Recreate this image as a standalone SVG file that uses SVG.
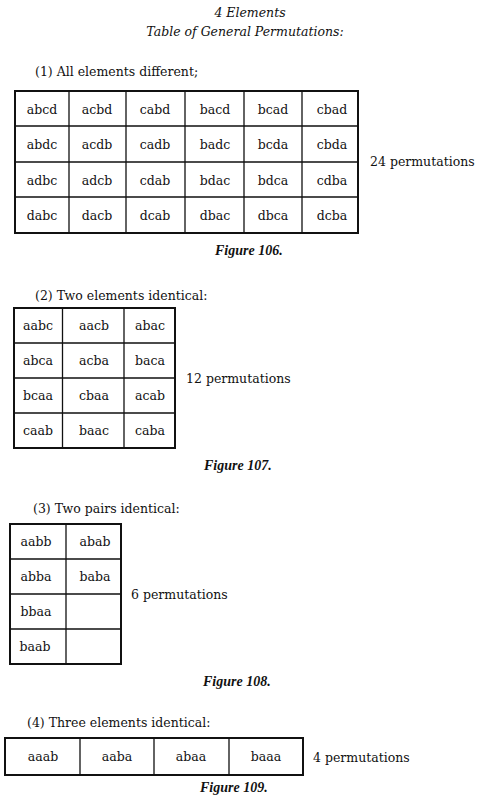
<svg xmlns="http://www.w3.org/2000/svg" width="483" height="803" viewBox="0 0 483 803">
<style>
.bg{fill:#ffffff}
.t{font-family:"DejaVu Serif","Liberation Serif",serif;font-size:12.5px;fill:#111}
.c{font-family:"DejaVu Serif","Liberation Serif",serif;font-size:12.5px;fill:#111;text-anchor:middle}
.it{font-family:"DejaVu Serif","Liberation Serif",serif;font-style:italic;font-size:12.5px;fill:#111;text-anchor:middle}
.cap{font-family:"Liberation Serif","DejaVu Serif",serif;font-style:italic;font-weight:bold;font-size:14px;fill:#111}
.outer{fill:none;stroke:#111;stroke-width:2}
.inner{fill:none;stroke:#111;stroke-width:1.3}
</style>
<rect class="bg" x="0" y="0" width="483" height="803"/>
<g id="title">
<text class="it" x="250" y="17">4 Elements</text>
<text class="it" x="245" y="36">Table of General Permutations:</text>
</g>

<g id="table1">
<text class="t" x="35" y="76">(1) All elements different;</text>
<g class="lines">
<rect class="outer" x="15" y="91" width="343" height="142"/>
<path class="inner" d="M69 91V233M126 91V233M185 91V233M244 91V233M302 91V233M15 126H358M15 162H358M15 197H358"/>
</g>
<text class="c" x="42" y="114">abcd</text><text class="c" x="97" y="114">acbd</text><text class="c" x="155" y="114">cabd</text><text class="c" x="215" y="114">bacd</text><text class="c" x="273" y="114">bcad</text><text class="c" x="332" y="114">cbad</text>
<text class="c" x="42" y="149">abdc</text><text class="c" x="97" y="149">acdb</text><text class="c" x="155" y="149">cadb</text><text class="c" x="215" y="149">badc</text><text class="c" x="273" y="149">bcda</text><text class="c" x="332" y="149">cbda</text>
<text class="c" x="42" y="185">adbc</text><text class="c" x="97" y="185">adcb</text><text class="c" x="155" y="185">cdab</text><text class="c" x="215" y="185">bdac</text><text class="c" x="273" y="185">bdca</text><text class="c" x="332" y="185">cdba</text>
<text class="c" x="42" y="220">dabc</text><text class="c" x="97" y="220">dacb</text><text class="c" x="155" y="220">dcab</text><text class="c" x="215" y="220">dbac</text><text class="c" x="273" y="220">dbca</text><text class="c" x="332" y="220">dcba</text>
<text class="t" x="370" y="166">24 permutations</text>
<text class="cap" x="215" y="255">Figure 106.</text>
</g>

<g id="table2">
<text class="t" x="35" y="300">(2) Two elements identical:</text>
<rect class="outer" x="14" y="308" width="161" height="140"/>
<path class="inner" d="M62.5 308V448M124 308V448M14 343H175M14 378H175M14 413H175"/>
<text class="c" x="38" y="330">aabc</text><text class="c" x="94" y="330">aacb</text><text class="c" x="150" y="330">abac</text>
<text class="c" x="38" y="365">abca</text><text class="c" x="94" y="365">acba</text><text class="c" x="150" y="365">baca</text>
<text class="c" x="38" y="400">bcaa</text><text class="c" x="94" y="400">cbaa</text><text class="c" x="150" y="400">acab</text>
<text class="c" x="38" y="435">caab</text><text class="c" x="94" y="435">baac</text><text class="c" x="150" y="435">caba</text>
<text class="t" x="186" y="383">12 permutations</text>
<text class="cap" x="204" y="470">Figure 107.</text>
</g>

<g id="table3">
<text class="t" x="33" y="513">(3) Two pairs identical:</text>
<rect class="outer" x="10" y="524" width="111" height="140"/>
<path class="inner" d="M66 524V664M10 559H121M10 594H121M10 629H121"/>
<text class="c" x="36" y="546">aabb</text><text class="c" x="95" y="546">abab</text>
<text class="c" x="36" y="581">abba</text><text class="c" x="95" y="581">baba</text>
<text class="c" x="36" y="616">bbaa</text>
<text class="c" x="35" y="651">baab</text>
<text class="t" x="131" y="599">6 permutations</text>
<text class="cap" x="203" y="686">Figure 108.</text>
</g>

<g id="table4">
<text class="t" x="27" y="727">(4) Three elements identical:</text>
<rect class="outer" x="5" y="738" width="298" height="37"/>
<path class="inner" d="M80 738V775M154 738V775M229 738V775"/>
<text class="c" x="43" y="761">aaab</text><text class="c" x="117" y="761">aaba</text><text class="c" x="191" y="761">abaa</text><text class="c" x="266" y="761">baaa</text>
<text class="t" x="313" y="762">4 permutations</text>
<text class="cap" x="200" y="792">Figure 109.</text>
</g>
</svg>
